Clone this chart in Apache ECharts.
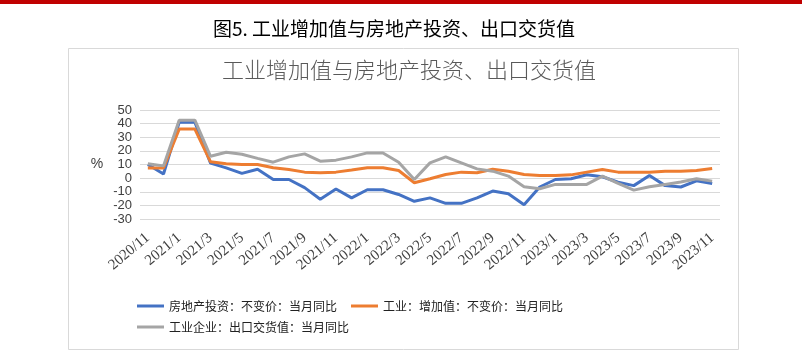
<!DOCTYPE html>
<html>
<head>
<meta charset="utf-8">
<script src="https://cdn.jsdelivr.net/npm/echarts@6/dist/echarts.min.js"></script>
<style>
html,body{margin:0;padding:0;background:#fff;}
#c{width:802px;height:358px;}
</style>
</head>
<body>
<div id="c"></div>
<script>
const categories = ["2020/11","2020/12","2021/1","2021/2","2021/3","2021/4","2021/5","2021/6","2021/7","2021/8","2021/9","2021/10","2021/11","2021/12","2022/1","2022/2","2022/3","2022/4","2022/5","2022/6","2022/7","2022/8","2022/9","2022/10","2022/11","2022/12","2023/1","2023/2","2023/3","2023/4","2023/5","2023/6","2023/7","2023/8","2023/9","2023/10","2023/11"];
const realEstate = [10,3,41,41,11,7.5,3.5,6.5,-1,-1,-7,-15.5,-8,-14.5,-8.5,-8.5,-12,-17,-14.5,-18.5,-18.5,-14.5,-9.5,-11.5,-19.5,-6.5,-1,-0.5,2.5,1,-3,-5.5,2,-5.5,-6.5,-2,-4];
const industry = [7.5,7.5,36,36,12,10.5,10,10,7.6,6.3,4.4,4,4.4,5.9,7.6,7.6,5.6,-3.4,-0.5,2.7,4.4,3.9,6.5,5.1,2.7,2,2,2.4,4.4,6.3,4.4,4.4,4.4,5.1,5.1,5.6,7];
const exportDelivery = [10.5,9,42.5,42.5,16,19,17.5,14.5,11.7,15.6,17.8,12.4,13.2,15.6,18.5,18.5,11.7,-1,11.2,15.6,11.2,6.8,5.1,1.5,-6.3,-7.8,-4.6,-4.6,-4.6,1.5,-3.9,-8.8,-6.3,-4.6,-2.9,-0.5,-2.2];
const seriesNames = ["房地产投资：不变价：当月同比","工业：增加值：不变价：当月同比","工业企业：出口交货值：当月同比"];
const yTicks = {min:-30, max:50, interval:10};

const chart = echarts.init(document.getElementById('c'));
const cjk = '"Noto Sans CJK SC", "Noto Sans", sans-serif';
chart.setOption({
  animation: false,
  backgroundColor: '#fff',
  graphic: [
    {type:'rect', shape:{x:0,y:0,width:802,height:4}, style:{fill:'#c00000'}},
    {type:'rect', shape:{x:68.5,y:48.5,width:670,height:301}, style:{fill:'none', stroke:'#d9d9d9', lineWidth:1}},
    {type:'text', x:213, y:29, style:{text:'图5. 工业增加值与房地产投资、出口交货值', fontSize:19, fontFamily:cjk, fill:'#000', textVerticalAlign:'middle', textAlign:'left'}},
    {type:'text', x:222, y:70, style:{text:'工业增加值与房地产投资、出口交货值', fontSize:22, fontFamily:cjk, fontWeight:300, fill:'#595959', textVerticalAlign:'middle', textAlign:'left'}},
    {type:'text', x:97, y:164, style:{text:'%', fontSize:14, fontFamily:'"Liberation Sans", sans-serif', fill:'#404040', textVerticalAlign:'middle', textAlign:'center'}}
  ],
  legend: [
    {data:[seriesNames[0], seriesNames[1]], left:132, top:295, icon:'rect', itemWidth:27, itemHeight:3, itemGap:14,
     textStyle:{fontSize:12, fontFamily:cjk, color:'#222'}},
    {data:[seriesNames[2]], left:132, top:316, icon:'rect', itemWidth:27, itemHeight:3,
     textStyle:{fontSize:12, fontFamily:cjk, color:'#222'}}
  ],
  grid: {left:140, right:82, top:110, bottom:139, containLabel:false},
  xAxis: {
    type:'category', data:categories, boundaryGap:true,
    axisLine:{show:false}, axisTick:{show:false},
    axisLabel:{interval:1, rotate:40, margin:17, fontSize:15, fontFamily:'"Liberation Serif", serif', color:'#404040'}
  },
  yAxis: {
    type:'value', min:yTicks.min, max:yTicks.max, interval:yTicks.interval,
    axisLine:{show:false}, axisTick:{show:false},
    axisLabel:{margin:8, fontSize:13, fontFamily:'"Liberation Sans", sans-serif', color:'#404040', showMinLabel:true, showMaxLabel:true, hideOverlap:false},
    splitLine:{lineStyle:{color:'#d9d9d9', width:1}}
  },
  series: [
    {name:seriesNames[0], type:'line', data:realEstate, symbol:'none', lineStyle:{width:3, color:'#4472c4'}, itemStyle:{color:'#4472c4'}},
    {name:seriesNames[1], type:'line', data:industry, symbol:'none', lineStyle:{width:3, color:'#ed7d31'}, itemStyle:{color:'#ed7d31'}},
    {name:seriesNames[2], type:'line', data:exportDelivery, symbol:'none', lineStyle:{width:3, color:'#a5a5a5'}, itemStyle:{color:'#a5a5a5'}}
  ]
});
</script>
</body>
</html>
